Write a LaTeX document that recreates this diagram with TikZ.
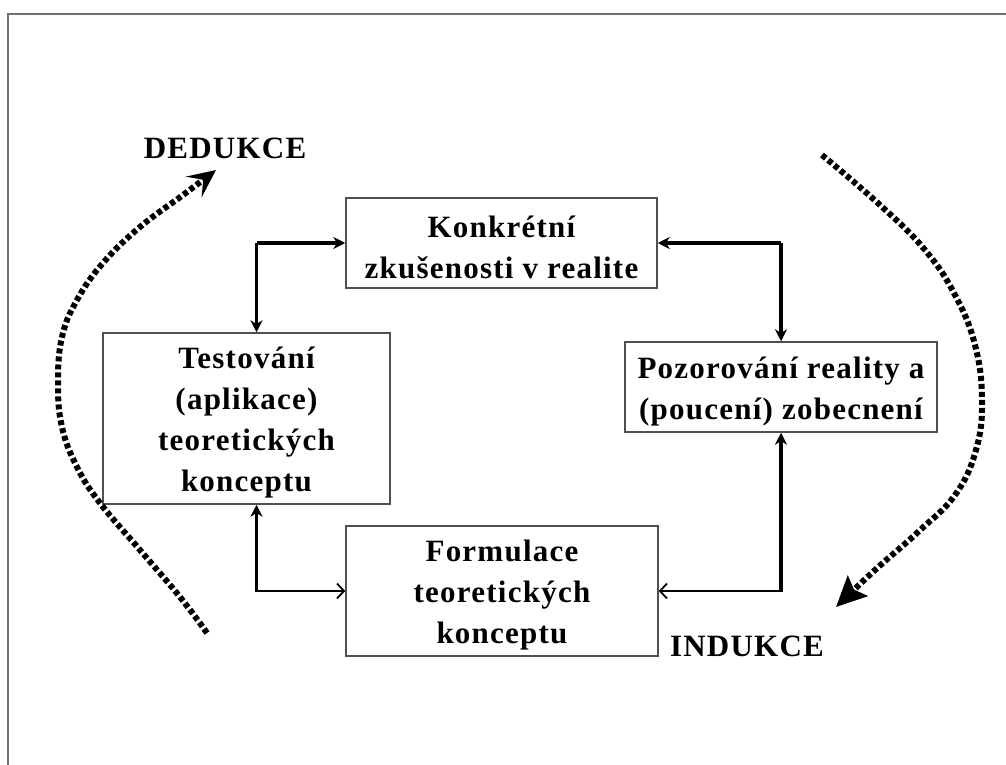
\documentclass[tikz,border=0pt]{standalone}
\usepackage{fontspec}
\setmainfont{Liberation Serif}[LetterSpace=4]
\usetikzlibrary{arrows.meta}
\definecolor{boxgray}{HTML}{505050}
\definecolor{framegray}{HTML}{707070}
\begin{document}
\begin{tikzpicture}[x=1pt,y=-1pt,
  box/.style={draw=boxgray, line width=1.5pt, inner sep=0pt, align=center,
    font=\bfseries\fontsize{31}{41}\selectfont},
  lab/.style={inner sep=0pt, font=\bfseries\fontsize{31}{36}\selectfont},
  thickconn/.style={line width=3.5pt, -{Stealth[length=12pt,width=12pt]}},
  thinconn/.style={line width=1.8pt, -{Straight Barb[length=7pt,width=15pt,line width=1.8pt]}},
  arcline/.style={line width=6pt, dash pattern=on 5pt off 3pt}
]
\useasboundingbox (0,0) rectangle (1006,765);
% outer frame
\draw[framegray, line width=2pt] (8,765) -- (8,14) -- (1006,14);

% boxes
\node[box, minimum width=311pt, minimum height=90pt] (konk) at (501.5,243)
  {\rule{0pt}{30pt}Konkrétní\\zkušenosti v realite};
\node[box, minimum width=287pt, minimum height=171pt] (test) at (246.5,418.5)
  {\rule{0pt}{30pt}Testování\\(aplikace)\\teoretických\\konceptu};
\node[box, minimum width=312pt, minimum height=90pt] (pozor) at (781,387)
  {\rule{0pt}{30pt}Pozorování reality a\\(poucení) zobecnení};
\node[box, minimum width=312pt, minimum height=130pt] (form) at (502,591)
  {\rule{0pt}{30pt}Formulace\\teoretických\\konceptu};

% labels
\node[lab] (ded) at (225,148) {DEDUKCE};
\node[lab] (ind) at (747,646) {INDUKCE};

% connectors
\coordinate (tl) at ([xshift=10pt]test.north |- konk.west);
\draw[thickconn] (tl) -- (konk.west);
\draw[thickconn] (tl) -- ([xshift=10pt]test.north);
\draw[thickconn] (konk.east -| pozor.north) -- (konk.east);
\draw[thickconn] (konk.east -| pozor.north) -- (pozor.north);

\coordinate (bl) at ([xshift=10pt]test.south |- form.west);
\draw[thickconn] (bl) -- ([xshift=10pt]test.south);
\draw[thinconn] ([xshift=-1.7pt]bl) -- (form.west);
\coordinate (br) at (pozor.south |- form.east);
\draw[thickconn] (br) -- (pozor.south);
\draw[thinconn] ([xshift=1.7pt]br) -- (form.east);

% deduction / induction arcs
\draw[arcline, -{Stealth[length=28pt,width=26pt,inset=12pt]}]
  plot[smooth, tension=0.7] coordinates {(207,633) (180,597) (140,550) (100,503) (77,467)
   (62,427) (58,383) (62,337) (77,300) (103,263) (140,227) (183,195) (216,170)};
\draw[arcline, -{Stealth[length=30pt,width=28pt,inset=5pt]}]
  plot[smooth, tension=0.7] coordinates {(822,155) (880,205) (925,250) (955,295) (975,345)
   (982,400) (976,450) (955,495) (918,532) (875,570) (836,607)};
\end{tikzpicture}
\end{document}
